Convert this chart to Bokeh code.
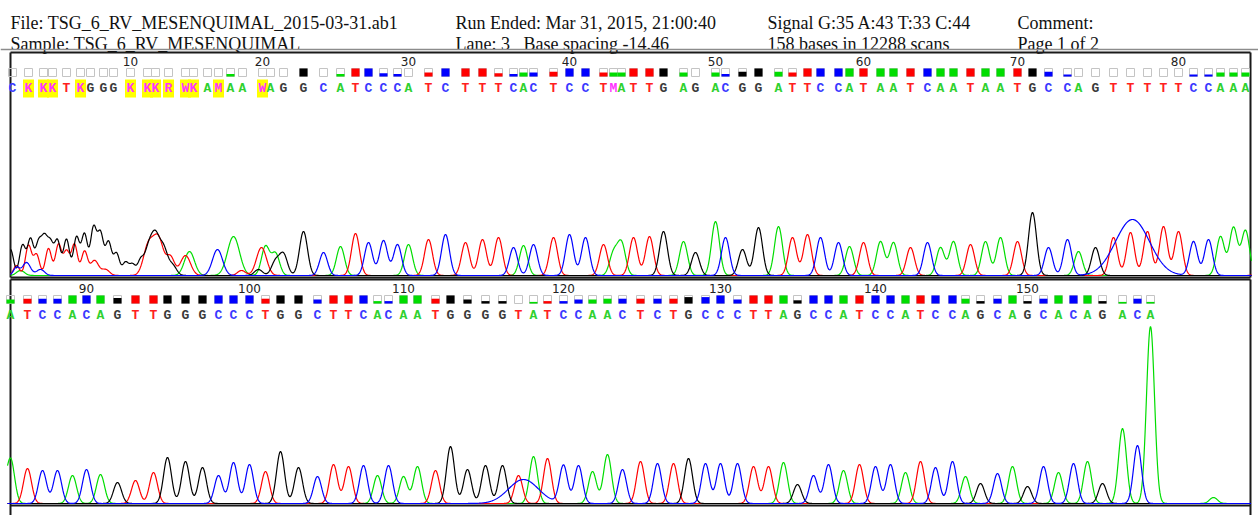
import numpy as np
from bokeh.plotting import figure
from bokeh.models import Range1d, ColumnDataSource
from bokeh.core.properties import value
from bokeh.embed import file_html
from bokeh.resources import INLINE

# ---------------- data ----------------
HEADER_COL1 = ["File: TSG_6_RV_MESENQUIMAL_2015-03-31.ab1", "Sample: TSG_6_RV_MESENQUIMAL"]
HEADER_COL2 = ["Run Ended: Mar 31, 2015, 21:00:40", "Lane: 3\u00a0\u00a0\u00a0Base spacing -14.46"]
HEADER_COL3 = ["Signal G:35 A:43 T:33 C:44", "158 bases in 12288 scans"]
HEADER_COL4 = ["Comment:", "Page 1 of 2"]

BASES = list("CKKKTKGGGKKKRWKAMAAWAGGCATCCCATCTTTCACTCCTMATTGAGACGGATTCCATAATCAATAATGCCAGTTTTTCCAAA"
             "TCCACAGTTGGGCCCTGGCTTCACAATGGGGTATCCAACTCTGCCCTTAGCCATCCATCCAGCAGCACAGACA")

BASE_SCAN = [
    1002, 1018, 1033, 1042, 1056, 1070, 1080, 1093, 1103, 1120,
    1137, 1145, 1158, 1175, 1183, 1197, 1208, 1220, 1232, 1252,
    1260, 1273, 1293, 1313, 1330, 1345, 1358, 1373, 1387, 1398,
    1418, 1435, 1455, 1472, 1488, 1503, 1513, 1523, 1543, 1559,
    1575, 1593, 1603, 1611, 1623, 1639, 1653, 1673, 1685, 1705,
    1715, 1732, 1748, 1768, 1782, 1797, 1810, 1828, 1839, 1853,
    1870, 1883, 1900, 1917, 1930, 1943, 1960, 1975, 1990, 2007,
    2022, 2038, 2057, 2068, 2085, 2103, 2120, 2137, 2153, 2168,
    2183, 2198, 2210, 2223, 2235, 2252, 2267, 2282, 2297, 2311,
    2325, 2342, 2360, 2378, 2392, 2410, 2427, 2443, 2458, 2474,
    2490, 2505, 2523, 2542, 2558, 2573, 2588, 2602, 2613, 2628,
    2642, 2660, 2675, 2692, 2710, 2727, 2743, 2758, 2772, 2788,
    2803, 2817, 2832, 2847, 2865, 2882, 2898, 2913, 2930, 2945,
    2962, 2978, 2993, 3008, 3022, 3038, 3053, 3068, 3084, 3100,
    3115, 3130, 3145, 3160, 3177, 3190, 3205, 3222, 3237, 3252,
    3268, 3283, 3298, 3312, 3327, 3347, 3362, 3375]

QUALITY = [
    0, 0, 0, 0, 0, 0, 0, 0, 0, 0,
    0, 0, 0, 0, 0, 0, 0, 0.3, 0, 0,
    0, 0, 1, 0, 0.3, 1, 1, 0.4, 0.3, 0,
    0.5, 1, 1, 1, 0.4, 0.3, 0.5, 0.5, 0.6, 1,
    1, 0.5, 0.5, 0.5, 1, 1, 1, 0.5, 0, 0.5,
    0.3, 0.6, 1, 0.6, 0.5, 1, 1, 1, 1, 1,
    1, 1, 1, 1, 1, 1, 1, 1, 1, 1,
    1, 0.6, 0.25, 0, 0, 0, 0, 0, 0, 0,
    0.25, 0.25, 0.5, 0.5, 0.5, 0.6, 0.6, 0.6, 1, 1,
    1, 0.7, 1, 1, 1, 1, 1, 1, 1, 1,
    0.6, 1, 1, 0.5, 1, 1, 1, 0.3, 0.3, 1,
    1, 0.6, 1, 0.5, 0.3, 0.3, 0, 0.2, 0.3, 0.3,
    0.5, 0.5, 0.6, 0.6, 0.6, 0.6, 0.6, 0.8, 0.8, 1,
    0.5, 1, 1, 1, 0.4, 1, 1, 1, 1, 1,
    1, 1, 1, 1, 1, 0.6, 0.3, 0.6, 1, 0.3,
    0.6, 1, 1, 1, 0.3, 0.2, 0.6, 0.2]

PEAK_HEIGHT = [
    0, 0, 0, 0, 0, 0, 0, 0, 0, 0,
    0, 0, 0, 0, 0, 0, 0, 0, 0, 0,
    0, 0, 44, 23, 29, 42, 33, 35, 31, 31,
    36, 41, 33, 36, 38, 28, 30, 31, 38, 41,
    38, 31, 0, 32, 38, 39, 44, 34, 23, 54,
    38, 26, 48, 49, 38, 41, 38, 33, 29, 33,
    34, 33, 28, 33, 28, 34, 31, 34, 38, 34,
    63, 28, 36, 24, 28, 38, 43, 44, 49, 44,
    34, 36, 39, 48, 45, 35, 33, 33, 28, 34,
    29, 21, 23, 31, 46, 42, 36, 28, 41, 39,
    32, 52, 36, 27, 39, 37, 38, 28, 38, 27,
    37, 33, 57, 34, 38, 38, 28, 47, 45, 38,
    38, 32, 49, 34, 42, 40, 40, 45, 40, 40,
    40, 37, 37, 41, 19, 28, 39, 33, 39, 37,
    39, 31, 42, 36, 42, 27, 20, 30, 37, 17,
    37, 31, 40, 42, 20, 75, 58, 177]

TICK_LABELS = [10, 20, 30, 40, 50, 60, 70, 80, 90, 100, 110, 120, 130, 140, 150]
HIGHLIGHTED = [2, 3, 4, 6, 10, 11, 12, 13, 14, 15, 17, 20]

# extra (non-called / mixed) signal peaks per dye
EXTRA_G_SCAN = [1000, 1012, 1020, 1028, 1034, 1040, 1047, 1056, 1066, 1074, 1083, 1090,
                1098, 1106, 1115, 1122, 1130, 1138, 1145, 1153, 1162, 1248, 1265, 1273]
EXTRA_G_HEIGHT = [26, 30, 36, 31, 34, 30, 34, 36, 38, 41, 47, 41,
                  33, 22, 13, 11, 14, 26, 36, 26, 10, 6, 14, 21]
EXTRA_G_WIDTH = [3, 3, 3, 3, 3, 3, 3, 3, 3, 3, 3, 3,
                 3, 3, 3, 3, 3, 4, 4, 4, 4, 4, 4, 4]

EXTRA_T_SCAN = [1006, 1018, 1026, 1038, 1048, 1056, 1064, 1074, 1084, 1095, 1138, 1148, 1160, 1175, 1231, 1251]
EXTRA_T_HEIGHT = [10, 30, 21, 27, 31, 24, 31, 24, 15, 6, 30, 36, 18, 20, 5, 28]
EXTRA_T_WIDTH = [3, 3, 3, 3, 3, 3, 3, 3, 4, 4, 5, 5, 4, 5, 4, 5]

EXTRA_A_SCAN = [1010, 1179, 1223, 1255, 1265, 1603, 3438]
EXTRA_A_HEIGHT = [5, 24, 39, 29, 22, 22, 6]
EXTRA_A_WIDTH = [4, 5, 6, 4, 4, 4, 4]

EXTRA_C_SCAN = [1006, 1016, 1030, 1207, 2122, 2748]
EXTRA_C_HEIGHT = [8, 13, 6, 26, 56, 24]
EXTRA_C_WIDTH = [3, 4, 4, 5, 17, 15]

# ---------------- styles ----------------
DYE_COLOR = {"A": "#00dd00", "C": "#0000ff", "G": "#000000", "T": "#ff0000"}
LETTER_COLOR = {"A": "#2ed12e", "C": "#3a3aff", "G": "#3a3a3a", "T": "#ff2020"}
AMBIG_COLOR = "#ff33ff"
QUAL_DYE = {"A": "A", "C": "C", "G": "G", "T": "T", "M": "A", "K": "G", "R": "A", "W": "A"}
PEAK_SIGMA = 4.0

W, H = 1258, 515
ROW1_X = (990, 2248)
ROW2_X = (2225, 3483)

p = figure(width=W, height=H, x_range=Range1d(*ROW1_X), y_range=Range1d(-240, 275),
           output_backend="svg", toolbar_location=None,
           x_axis_location=None, y_axis_location=None, min_border=0)
p.extra_x_ranges = {"r2": Range1d(*ROW2_X), "px": Range1d(0, W)}
p.extra_y_ranges = {"r2": Range1d(-12, 503), "px": Range1d(H, 0)}
p.grid.visible = False
p.outline_line_color = None
p.background_fill_color = "white"
p.border_fill_color = "white"

# ---------------- header ----------------
serif = value("Liberation Serif")
for col, xx in [(HEADER_COL1, 10), (HEADER_COL2, 455), (HEADER_COL3, 767), (HEADER_COL4, 1017)]:
    p.text(x=[xx, xx], y=[22, 43], text=col, x_range_name="px", y_range_name="px",
           text_font=serif, text_font_size="18px", text_color="#111111",
           text_baseline="alphabetic", text_align="left")
p.segment(x0=[0], y0=[49], x1=[W], y1=[49], x_range_name="px", y_range_name="px",
          line_color="#8c8c8c", line_width=1.5)

# ---------------- frames ----------------
fx0 = [10, 10, 10, 1250, 10, 10, 10, 1250]
fy0 = [52, 277, 52, 52, 279, 505, 279, 279]
fx1 = [1250, 1250, 10, 1250, 1250, 1250, 10, 1250]
fy1 = [52, 277, 277, 277, 279, 505, 515, 515]
p.segment(x0=fx0, y0=fy0, x1=fx1, y1=fy1, x_range_name="px", y_range_name="px",
          line_color="#1a1a1a", line_width=2)

# ---------------- traces ----------------
xs = np.arange(1000, 3476, 0.5)
extras = {
    "A": (EXTRA_A_SCAN, EXTRA_A_HEIGHT, EXTRA_A_WIDTH),
    "C": (EXTRA_C_SCAN, EXTRA_C_HEIGHT, EXTRA_C_WIDTH),
    "G": (EXTRA_G_SCAN, EXTRA_G_HEIGHT, EXTRA_G_WIDTH),
    "T": (EXTRA_T_SCAN, EXTRA_T_HEIGHT, EXTRA_T_WIDTH),
}
signal = {}
for dye in "ACGT":
    y = np.zeros_like(xs)
    for s, b, h in zip(BASE_SCAN, BASES, PEAK_HEIGHT):
        if b == dye and h > 0:
            y += h * np.exp(-0.5 * ((xs - s) / PEAK_SIGMA) ** 2)
    for s, h, w in zip(*extras[dye]):
        y += h * np.exp(-0.5 * ((xs - s) / w) ** 2)
    signal[dye] = y

m1 = xs <= 2241
m2 = xs >= 2232
for dye in ["A", "T", "G", "C"]:
    p.line(xs[m1], signal[dye][m1], line_color=DYE_COLOR[dye], line_width=1.2)
    p.line(xs[m2], signal[dye][m2], line_color=DYE_COLOR[dye], line_width=1.2,
           x_range_name="r2", y_range_name="r2")

# ---------------- base calls, quality boxes, ticks ----------------
rows = [("default", 0, 85, 0), ("r2", 84, 158, 227)]
mono = value("Liberation Mono")
for xr, i0, i1, dy in rows:
    idx = list(range(i0, i1))
    scans = [BASE_SCAN[i] for i in idx]
    # highlight for ambiguous calls
    hl = [BASE_SCAN[n - 1] for n in HIGHLIGHTED if i0 <= n - 1 < i1]
    if hl:
        p.quad(left=[s - 5.5 for s in hl], right=[s + 5.5 for s in hl],
               top=[79 + dy] * len(hl), bottom=[97 + dy] * len(hl),
               x_range_name=xr, y_range_name="px", fill_color="#ffff00", line_color=None)
    # quality boxes
    p.quad(left=[s - 4 for s in scans], right=[s + 4 for s in scans],
           top=[68 + dy] * len(scans), bottom=[76 + dy] * len(scans),
           x_range_name=xr, y_range_name="px", fill_color=None,
           line_color="#c4c4c4", line_width=1)
    qi = [i for i in idx if QUALITY[i] > 0]
    p.quad(left=[BASE_SCAN[i] - 4 for i in qi], right=[BASE_SCAN[i] + 4 for i in qi],
           top=[76 + dy - 8 * QUALITY[i] for i in qi], bottom=[76 + dy] * len(qi),
           x_range_name=xr, y_range_name="px",
           fill_color=[DYE_COLOR[QUAL_DYE[BASES[i]]] for i in qi], line_color=None)
    # letters
    src = ColumnDataSource(dict(
        x=scans, y=[88 + dy] * len(scans), t=[BASES[i] for i in idx],
        c=[LETTER_COLOR.get(BASES[i], AMBIG_COLOR) for i in idx]))
    p.text(x="x", y="y", text="t", text_color="c", source=src,
           x_range_name=xr, y_range_name="px", text_font=mono,
           text_font_size="13px", text_font_style="bold",
           text_align="center", text_baseline="middle")
    # tick numbers
    tk = [t for t in TICK_LABELS if i0 <= t - 1 < i1 and not (xr == "r2" and t == 85)]
    p.text(x=[BASE_SCAN[t - 1] for t in tk], y=[61 + dy] * len(tk), text=[str(t) for t in tk],
           x_range_name=xr, y_range_name="px", text_font=value("DejaVu Sans"),
           text_font_size="12px", text_color="#222222",
           text_align="center", text_baseline="middle")

open("out.html", "w").write(file_html(p, INLINE))
